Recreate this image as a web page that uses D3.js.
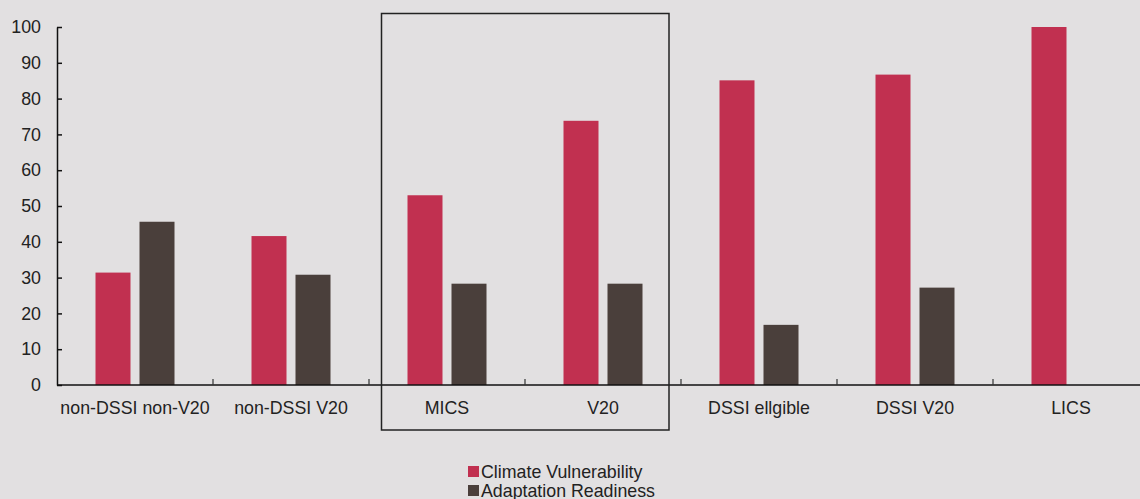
<!DOCTYPE html>
<html><head><meta charset="utf-8">
<script src="https://cdn.jsdelivr.net/npm/d3@7/dist/d3.min.js"></script>
<style>
html,body{margin:0;padding:0;background:#E2E0E1;}
svg{display:block;font-family:"Liberation Sans",Arial,sans-serif;}
</style></head>
<body>
<svg id="chart" width="1140" height="499"></svg>
<script>
const categories = ["non-DSSI non-V20","non-DSSI V20","MICS","V20","DSSI ellgible","DSSI V20","LICS"];
const climateVulnerability = [31.4, 41.6, 53.0, 73.8, 85.1, 86.7, 100];
const adaptationReadiness = [45.6, 30.8, 28.3, 28.3, 16.8, 27.2, null];
const seriesNames = ["Climate Vulnerability","Adaptation Readiness"];
const yTicks = [0,10,20,30,40,50,60,70,80,90,100];
const colors = ["#C13050","#4A3F3B"];

const FS = 17.8;
const svg = d3.select("#chart");
const x0 = 57, x1 = 57 + 156*7, yTop = 27, yBot = 385;
const x = d3.scaleBand().domain(categories).range([x0, x1]).paddingInner(0).paddingOuter(0);
const y = d3.scaleLinear().domain([0,100]).range([yBot, yTop]);
const barW = 35, gap = 9;

const series = [climateVulnerability, adaptationReadiness];
series.forEach((vals, si) => {
  svg.append("g").selectAll("rect")
    .data(categories.map((c,i)=>({c, v: vals[i]})).filter(d=>d.v!=null))
    .join("rect")
    .attr("x", d => x(d.c) + x.bandwidth()/2 - (barW*2+gap)/2 + si*(barW+gap))
    .attr("y", d => y(d.v))
    .attr("width", barW)
    .attr("height", d => y(0)-y(d.v))
    .attr("fill", colors[si]);
});

// y axis
const yAxis = d3.axisLeft(y).tickValues(yTicks).tickSize(-5).tickSizeOuter(0).tickPadding(16);
const gy = svg.append("g").attr("transform",`translate(${x0},0)`).call(yAxis);
gy.select(".domain").attr("stroke","#111").attr("stroke-width",1.5);
gy.selectAll(".tick line").attr("stroke","#111").attr("stroke-width",1.5);
gy.selectAll(".tick text").attr("font-size",FS).attr("fill","#222").attr("font-family","Liberation Sans, Arial, sans-serif");

// x axis
const boundaries = d3.range(1,7).map(i => x(categories[i]));
const gx = svg.append("g").attr("transform",`translate(0,${yBot})`);
gx.append("line").attr("x1",x0).attr("x2",1140).attr("y1",0).attr("y2",0).attr("stroke","#111").attr("stroke-width",1.5);
gx.selectAll("line.tk").data(boundaries).join("line").attr("class","tk")
  .attr("x1",d=>d).attr("x2",d=>d).attr("y1",0).attr("y2",-6).attr("stroke","#333").attr("stroke-width",1.2);
gx.selectAll("text").data(categories).join("text")
  .attr("x", d => x(d)+x.bandwidth()/2).attr("y", 29)
  .attr("text-anchor","middle").attr("font-size",FS).attr("fill","#222").text(d=>d);

// highlight box around MICS and V20
svg.append("rect").attr("x",381.5).attr("y",13.5).attr("width",287.5).attr("height",416.5)
  .attr("fill","none").attr("stroke","#222").attr("stroke-width",1.5);

// legend
const lg = svg.append("g");
seriesNames.forEach((n,i)=>{
  lg.append("rect").attr("x",468).attr("y",466+i*19).attr("width",11).attr("height",11).attr("fill",colors[i]);
  lg.append("text").attr("x",481).attr("y",478+i*19).attr("font-size",FS).attr("fill","#222").text(n);
});
</script>
</body></html>
